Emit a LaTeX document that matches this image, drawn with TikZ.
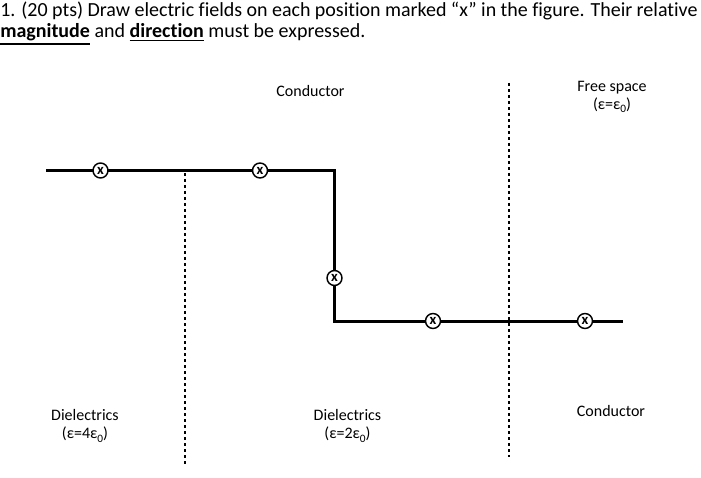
\documentclass[tikz,border=0pt]{standalone}
\usepackage{fontspec}
\setmainfont[Ligatures=NoCommon]{Carlito}
\usetikzlibrary{positioning}
\newcommand{\undl}[1]{\leavevmode\vtop{\hbox{#1}\kern1.2pt\hrule height 1.3pt}}
\newcommand{\epsz}{ε\raisebox{-0.45ex}{\fontsize{8.5}{8.5}\selectfont 0}}
\tikzset{
boundary/.style={line width=2.25pt, line join=miter},
interface/.style={line width=2pt, dash pattern=on 2pt off 2.5pt},
xmark/.style={draw, circle, fill=white, line width=1.1pt, inner sep=0pt,
  minimum size=11.25pt, font=\fontsize{11}{11}\selectfont\bfseries},
region/.style={align=center, inner sep=0pt, font=\fontsize{12}{13.5}\selectfont},
}

\begin{document}
\begin{tikzpicture}[x=0.75pt, y=-0.75pt]
\useasboundingbox (0,0) rectangle (701,478);
% question text
\node[anchor=base west, inner sep=0pt, font=\fontsize{15}{16.5}\selectfont] (q1) at (0,17)
  {\makebox[523pt][s]{1. (20 pts) Draw electric fields on each position marked “x” in the figure.  Their relative}};
\node[anchor=base west, inner sep=0pt, font=\fontsize{15}{16.5}\selectfont] (q2) at (0,38)
  {\undl{\textbf{magnitude}} and \undl{\textbf{direction}} must be expressed.};

% interfaces between the regions
\coordinate (i1top) at (185,173);
\coordinate (i1bot) at (185,464);
\coordinate (i2top) at (509,83);
\coordinate (i2bot) at (509,457);
\draw[interface] (i1top) -- (i1bot);
\draw[interface] (i2top) -- (i2bot);

% conductor surface
\coordinate (sl) at (46,170.5);
\coordinate (c1) at (334.5,170.5);
\coordinate (c2) at (334.5,321);
\coordinate (sr) at (623,321);
\draw[boundary] (sl) -- (c1) -- (c2) -- (sr);

% positions
\node[xmark] (p1) at (100.5,170.5) {x};
\node[xmark] (p2) at (260,170.5) {x};
\node[xmark] (p3) at (334.5,278) {x};
\node[xmark] (p4) at (433,321) {x};
\node[xmark] (p5) at (585,321) {x};

% regions
\node[region, anchor=base] (cond1) at (310.5,97) {Conductor};
\node[region] (free) at (612,97) {Free space\\(ε=\epsz)};
\node[region] (diel1) at (85,426) {Dielectrics\\(ε=4\epsz)};
\node[region] (diel2) at (347.5,426) {Dielectrics\\(ε=2\epsz)};
\node[region, anchor=base] (cond2) at (611,416) {Conductor};
\end{tikzpicture}
\end{document}
